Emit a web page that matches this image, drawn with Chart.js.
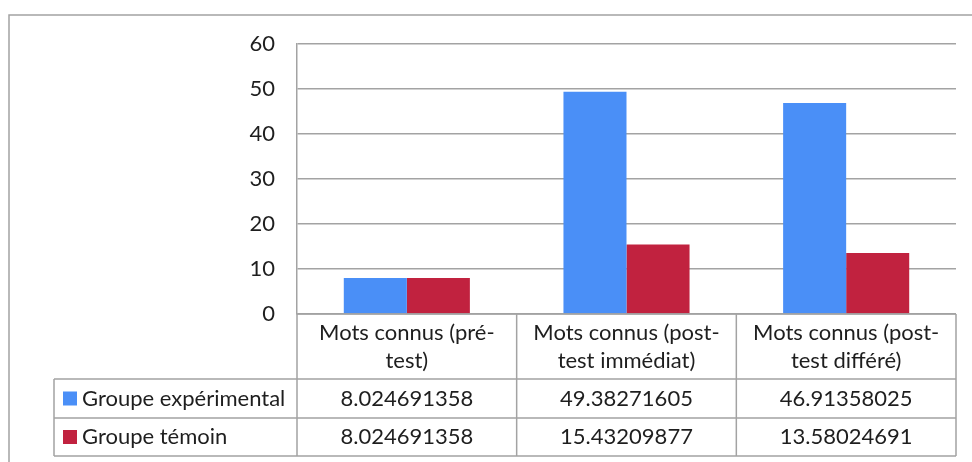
<!DOCTYPE html>
<html>
<head>
<meta charset="utf-8">
<script src="https://cdn.jsdelivr.net/npm/chart.js@4"></script>
<style>
  html, body { margin: 0; padding: 0; background: #fff; }
  canvas { display: block; }
</style>
</head>
<body>
<canvas id="chart" width="972" height="462"></canvas>
<script>
const categories = [
  ['Mots connus (pré-', 'test)'],
  ['Mots connus (post-', 'test immédiat)'],
  ['Mots connus (post-', 'test différé)']
];
const seriesNames = ['Groupe expérimental', 'Groupe témoin'];
const groupeExperimental = [8.024691358, 49.38271605, 46.91358025];
const groupeTemoin = [8.024691358, 15.43209877, 13.58024691];
const yTicks = [0, 10, 20, 30, 40, 50, 60];

const BLUE = '#4a8ff7';
const RED = '#c1223f';
const LINE = '#a3a3a3';
const TEXT = '#1e1e1e';
const FONT = 'Lato, "Noto Sans", sans-serif';
const FONT_SIZE = 22;

// outer frame, cut off at right and bottom like the screenshot
const framePlugin = {
  id: 'frame',
  beforeDraw(chart) {
    const ctx = chart.ctx;
    ctx.save();
    ctx.strokeStyle = LINE;
    ctx.lineWidth = 1.5;
    ctx.strokeRect(9, 15, 1200, 1200);
    ctx.restore();
  }
};

// data table under the plot, columns follow the x scale
const tablePlugin = {
  id: 'dataTable',
  afterDraw(chart) {
    const ctx = chart.ctx;
    const x = chart.scales.x;
    const area = chart.chartArea;
    const half = (x.getPixelForValue(1) - x.getPixelForValue(0)) / 2;
    const centers = categories.map((_, i) => x.getPixelForValue(i));
    const edges = [centers[0] - half, ...centers.map(c => c + half)];
    const legendLeft = 54;

    const headTop = area.bottom;
    const row1Top = headTop + 65;
    const row2Top = row1Top + 39;
    const bottom = row2Top + 38;

    ctx.save();
    ctx.strokeStyle = LINE;
    ctx.lineWidth = 1.5;
    ctx.beginPath();
    // horizontal lines
    ctx.moveTo(edges[0], headTop); ctx.lineTo(edges[3], headTop);
    [row1Top, row2Top, bottom].forEach(yy => {
      ctx.moveTo(legendLeft, yy); ctx.lineTo(edges[3], yy);
    });
    // vertical lines
    edges.forEach(ex => { ctx.moveTo(ex, headTop); ctx.lineTo(ex, bottom); });
    ctx.moveTo(legendLeft, row1Top); ctx.lineTo(legendLeft, bottom);
    ctx.stroke();

    ctx.fillStyle = TEXT;
    ctx.font = FONT_SIZE + 'px ' + FONT;
    ctx.textAlign = 'center';
    ctx.textBaseline = 'middle';
    categories.forEach((lines, i) => {
      lines.forEach((ln, j) => {
        ctx.fillText(ln, centers[i], headTop + 19 + j * 28);
      });
    });

    const rows = [
      { top: row1Top, h: 39, name: seriesNames[0], color: BLUE, vals: groupeExperimental },
      { top: row2Top, h: 38, name: seriesNames[1], color: RED, vals: groupeTemoin }
    ];
    rows.forEach(r => {
      const cy = r.top + r.h / 2;
      ctx.fillStyle = r.color;
      ctx.fillRect(63, cy - 7, 14, 14);
      ctx.fillStyle = TEXT;
      ctx.textAlign = 'left';
      ctx.fillText(r.name, 82, cy);
      ctx.textAlign = 'center';
      r.vals.forEach((v, i) => ctx.fillText(String(v), centers[i], cy));
    });
    ctx.restore();
  }
};

new Chart(document.getElementById('chart'), {
  type: 'bar',
  data: {
    labels: categories,
    datasets: [
      { label: seriesNames[0], data: groupeExperimental, backgroundColor: BLUE },
      { label: seriesNames[1], data: groupeTemoin, backgroundColor: RED }
    ]
  },
  options: {
    responsive: false,
    animation: false,
    events: [],
    layout: { padding: { left: 0, right: 16, top: 44, bottom: 148 } },
    datasets: {
      bar: { categoryPercentage: 0.574, barPercentage: 1 }
    },
    plugins: {
      legend: { display: false },
      tooltip: { enabled: false }
    },
    scales: {
      x: {
        display: false
      },
      y: {
        min: 0,
        max: 60,
        afterFit(scale) { scale.width = 297; },
        afterBuildTicks(scale) { scale.ticks = yTicks.map(v => ({ value: v })); },
        border: { display: true, color: LINE, width: 1.5 },
        grid: { color: LINE, lineWidth: 1.5, drawTicks: false },
        ticks: {
          padding: 22,
          color: TEXT,
          font: { family: FONT, size: FONT_SIZE }
        }
      }
    }
  },
  plugins: [framePlugin, tablePlugin]
});
</script>
</body>
</html>
